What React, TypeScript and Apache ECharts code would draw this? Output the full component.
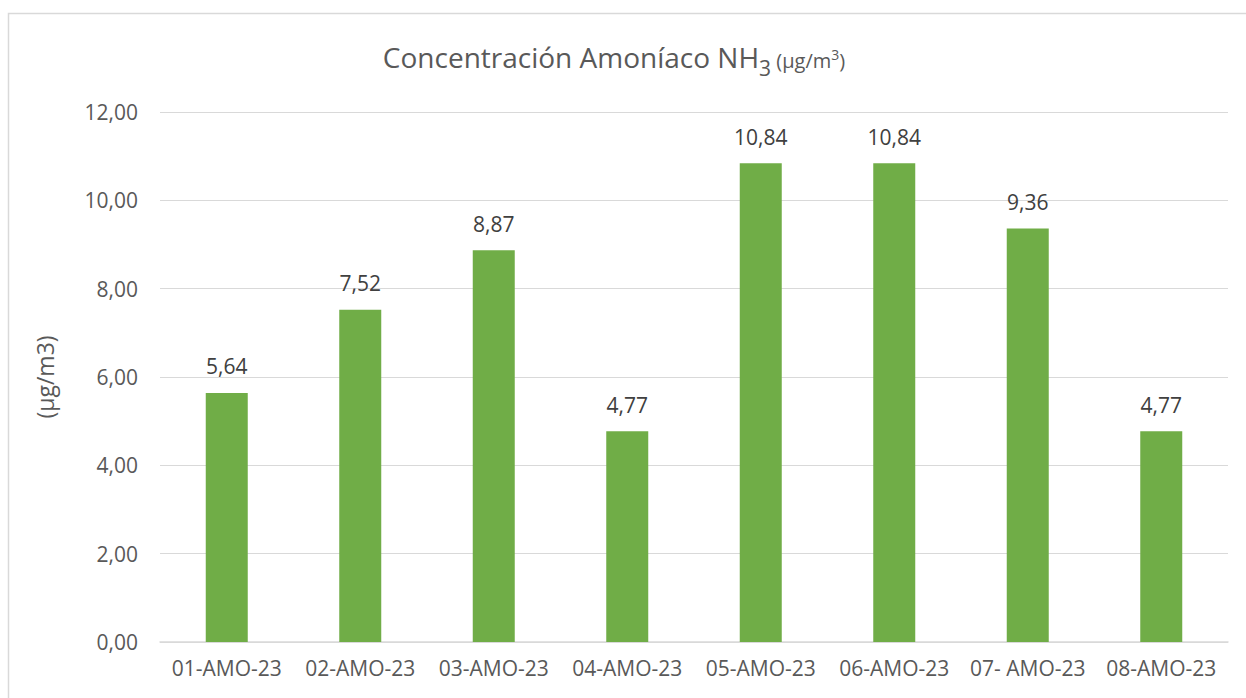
import React, { useEffect, useRef } from "react";
import * as echarts from "echarts";

const categories = ["01-AMO-23", "02-AMO-23", "03-AMO-23", "04-AMO-23", "05-AMO-23", "06-AMO-23", "07- AMO-23", "08-AMO-23"];
const values = [5.64, 7.52, 8.87, 4.77, 10.84, 10.84, 9.36, 4.77];
const yTicks = { min: 0, max: 12, interval: 2 };

const FONT = "Open Sans";
const fmt = (v: number) => v.toFixed(2).replace(".", ",");

export default function App() {
  const ref = useRef<HTMLDivElement>(null);
  useEffect(() => {
    if (!ref.current) return;
    const chart = echarts.init(ref.current, undefined, { renderer: "svg" });
    const base = { color: "#595959", fontFamily: FONT, fontWeight: "normal", verticalAlign: "bottom" };
    chart.setOption({
      animation: false,
      backgroundColor: "#ffffff",
      textStyle: { fontFamily: FONT },
      graphic: [
        {
          type: "rect",
          shape: { x: 8.5, y: 13.5, width: 1300, height: 800 },
          style: { fill: "none", stroke: "#d9d9d9", lineWidth: 1.5 },
          silent: true,
        },
      ],
      title: {
        text: "{a|Concentración Amoníaco NH}{s|3}{b| (µg/m}{p|3}{b|)}",
        left: 609,
        textAlign: "center",
        top: 38,
        textStyle: {
          fontWeight: "normal",
          rich: {
            a: { ...base, fontSize: 28, padding: [0, 0, 7, 0] },
            s: { ...base, fontSize: 21, padding: [0, 0, 0, 0] },
            b: { ...base, fontSize: 20, padding: [0, 0, 8, 0] },
            p: { ...base, fontSize: 14, padding: [0, 0, 17, 0] },
          },
        },
      },
      grid: { left: 160, right: 18, top: 112, bottom: 56, containLabel: false },
      xAxis: {
        type: "category",
        data: categories,
        axisLine: { lineStyle: { color: "#d9d9d9", width: 1.5 } },
        axisTick: { show: false },
        axisLabel: { color: "#595959", fontSize: 21, margin: 15, fontFamily: FONT, interval: 0 },
      },
      yAxis: {
        type: "value",
        min: yTicks.min,
        max: yTicks.max,
        interval: yTicks.interval,
        name: "(µg/m3)",
        nameLocation: "middle",
        nameRotate: 90,
        nameGap: 104,
        nameTextStyle: { color: "#595959", fontSize: 23, fontFamily: FONT },
        axisLine: { show: false },
        axisTick: { show: false },
        axisLabel: { color: "#595959", fontSize: 21, margin: 22, formatter: (v: number) => fmt(v), fontFamily: FONT },
        splitLine: { lineStyle: { color: "#d9d9d9", width: 1.2 } },
      },
      series: [
        {
          type: "bar",
          data: values,
          barWidth: 42,
          itemStyle: { color: "#70ad47" },
          label: {
            show: true,
            position: "top",
            distance: 16,
            color: "#404040",
            fontSize: 21,
            fontFamily: FONT,
            formatter: (p: any) => fmt(p.value),
          },
        },
      ],
    });
    return () => chart.dispose();
  }, []);
  return <div ref={ref} style={{ width: 1246, height: 698, position: "absolute", left: 0, top: 0 }} />;
}
